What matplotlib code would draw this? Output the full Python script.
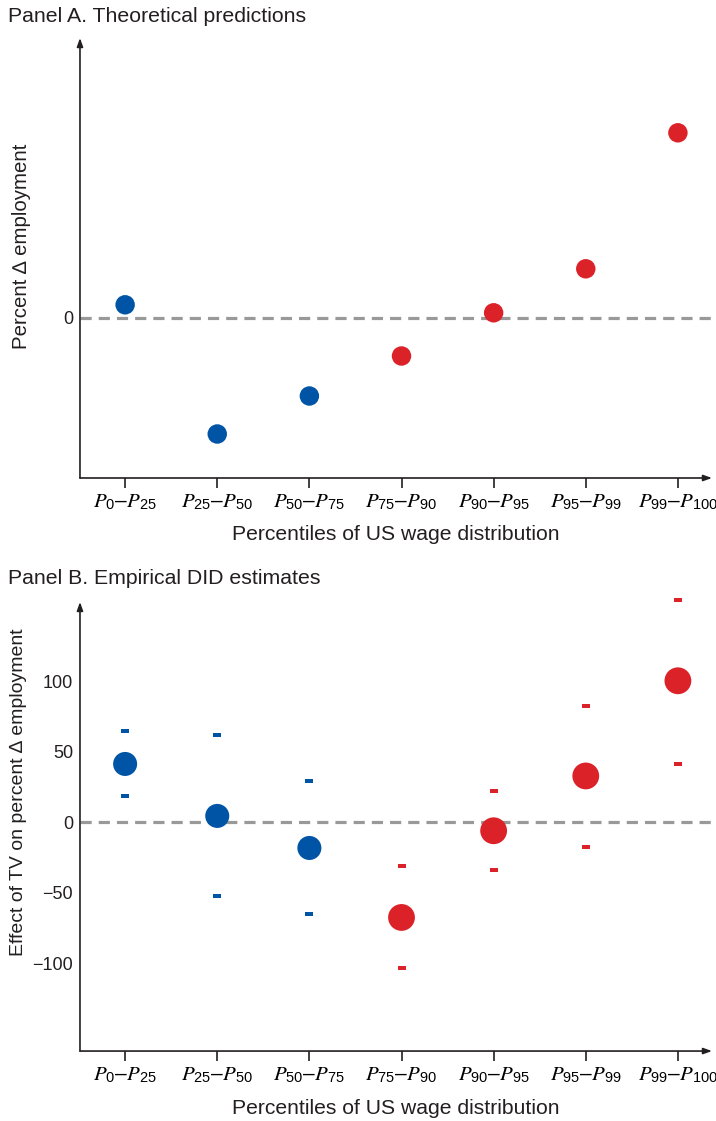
import numpy as np
import matplotlib
matplotlib.use("Agg")
import matplotlib.pyplot as plt

plt.rcParams['font.family'] = ['Liberation Sans', 'DejaVu Sans']
plt.rcParams['mathtext.fontset'] = 'custom'
plt.rcParams['mathtext.it'] = 'STIXGeneral:italic'
plt.rcParams['mathtext.rm'] = 'Liberation Sans'

# data
groups = [r'$P_{0}$–$P_{25}$', r'$P_{25}$–$P_{50}$', r'$P_{50}$–$P_{75}$',
          r'$P_{75}$–$P_{90}$', r'$P_{90}$–$P_{95}$', r'$P_{95}$–$P_{99}$',
          r'$P_{99}$–$P_{100}$']
theory = [0.33, -2.9, -1.95, -0.95, 0.13, 1.23, 4.63]
estimate = [41.3, 4.5, -18.2, -67.4, -6.0, 32.8, 100.2]
ci_upper = [64.3, 61.5, 29.0, -30.7, 22.0, 82.4, 157.7]
ci_lower = [18.6, -52.3, -65.2, -103.5, -34.1, -17.2, 41.6]
n_blue = 3

BLUE = '#0054a6'
RED = '#dc2229'
INK = '#231f20'
colors = [BLUE] * n_blue + [RED] * (len(groups) - n_blue)
x = np.arange(len(groups))

rect = [(-1, -0.55), (1, -0.55), (1, 0.55), (-1, 0.55), (-1, -0.55)]

fig = plt.figure(figsize=(7.16, 11.21), dpi=100)
axA = fig.add_axes([0.1117, 0.5736, 0.8827, 0.3925])
axB = fig.add_axes([0.1117, 0.0624, 0.8827, 0.4006])


def style(ax, xlabel, ylabel, ysize):
    for s in ax.spines.values():
        s.set_visible(False)
    arrow = dict(arrowstyle='-|>,head_length=0.5,head_width=0.18',
                 color=INK, lw=1.2, shrinkA=0, shrinkB=0)
    ax.annotate('', xy=(0, 1.0), xytext=(0, 0), xycoords='axes fraction', arrowprops=arrow)
    ax.annotate('', xy=(1.0, 0), xytext=(0, 0), xycoords='axes fraction', arrowprops=arrow)
    ax.set_xlim(-0.49, 6.37)
    ax.set_xticks(x)
    ax.set_xticklabels(groups, fontsize=15)
    ax.tick_params(axis='x', length=7, width=1.2, color=INK, pad=3)
    ax.tick_params(axis='y', length=0, labelsize=13, pad=5, labelcolor=INK)
    ax.set_xlabel(xlabel, fontsize=15.2, color=INK, labelpad=10)
    ax.set_ylabel(ylabel, fontsize=ysize, color=INK)
    ax.axhline(0, color='#999999', lw=2.3, ls=(0, (3.5, 2.2)), zorder=1)


# Panel A
style(axA, 'Percentiles of US wage distribution', 'Percent \u2206 employment', 14.7)
axA.yaxis.set_label_coords(-0.078, 0.526)
axA.set_ylim(-4.0, 7.0)
axA.set_yticks([0])
axA.scatter(x, theory, s=14 ** 2, c=colors, linewidths=0, zorder=3)
fig.text(0.011, 0.994, 'Panel A. Theoretical predictions', fontsize=15.3,
         color=INK, va='top', ha='left')

# Panel B
style(axB, 'Percentiles of US wage distribution',
      'Effect of TV on percent \u2206 employment', 14)
axB.yaxis.set_label_coords(-0.084, 0.577)
axB.set_ylim(-162, 156)
axB.set_yticks([-100, -50, 0, 50, 100])
sizes = [17.3 if c == BLUE else 19.3 for c in colors]
axB.scatter(x, estimate, s=np.array(sizes) ** 2, c=colors, linewidths=0, zorder=3)
for xi, lo, hi, c in zip(x, ci_lower, ci_upper, colors):
    axB.plot([xi, xi], [lo, hi], ls='none', marker=rect, ms=6.2, mew=0,
             color=c, zorder=3, clip_on=False)
fig.text(0.011, 0.492, 'Panel B. Empirical DID estimates', fontsize=15.3,
         color=INK, va='top', ha='left')

fig.savefig('out.png', dpi=100)
